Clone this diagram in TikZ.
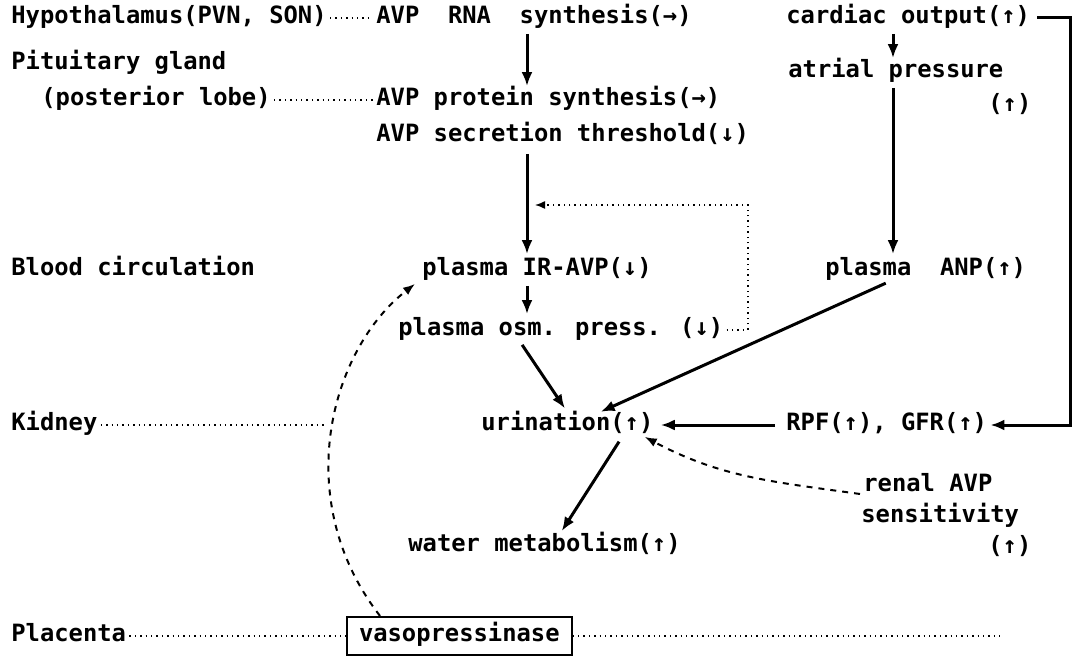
\documentclass[tikz,border=0pt]{standalone}
\usepackage{fontspec}
\setmainfont{DejaVu Sans Mono}
\usetikzlibrary{arrows.meta}

\begin{document}
\begin{tikzpicture}[x=0.5pt,y=-0.5pt,
		lbl/.style={anchor=west,inner ysep=0pt,inner xsep=1.5pt,text height=.75em,text depth=.2em,
			font=\fontsize{11.9}{13}\selectfont\bfseries},
		flow/.style={line width=1.5pt,-{Latex[length=7pt,width=5.5pt]}},
		link/.style={line width=0.7pt,dotted},
		flux/.style={line width=1pt,dashed,-{Latex[length=6pt,width=4.5pt]}}]
	\useasboundingbox (0,0) rectangle (1080,657);
	% columns and free ends
	\coordinate (colA) at (527,0);
	\coordinate (colB) at (893,0);
	\coordinate (rim) at (1070,0);
	\coordinate (kidend) at (327,0);
	\coordinate (plaend) at (1000,0);
	\coordinate (fbk) at (748,205);
	% organs
	\node[lbl] (hyp) at (8,18) {Hypothalamus(PVN, SON)};
	\node[lbl] (pit) at (8,64) {Pituitary gland};
	\node[lbl] (post) at (38,100) {(posterior lobe)};
	\node[lbl] (blood) at (8,270) {Blood circulation};
	\node[lbl] (kid) at (8,425) {Kidney};
	\node[lbl] (plac) at (8,636) {Placenta};
	% AVP side
	\node[lbl] (rna) at (373,18) {AVP~~RNA~~synthesis(→)};
	\node[lbl] (prot) at (373,100) {AVP protein synthesis(→)};
	\node[lbl] (secr) at (373,136) {AVP secretion threshold(↓)};
	\node[lbl] (irav) at (419,270) {plasma IR-AVP(↓)};
	\node[lbl] (osm) at (395,330) {plasma osm. press. (↓)};
	\node[lbl] (uri) at (478,425) {urination(↑)};
	\node[lbl] (water) at (405,546) {water metabolism(↑)};
	\node[lbl,draw,line width=1pt,inner xsep=6pt,inner ysep=4.8pt] (vaso) at (346,636) {vasopressinase};
	% ANP side
	\node[lbl] (card) at (783,18) {cardiac output(↑)};
	\node[lbl] (atr) at (785,72) {atrial pressure};
	\node[lbl] (atrup) at (985,106) {(↑)};
	\node[lbl] (anp) at (822,270) {plasma~~ANP(↑)};
	\node[lbl] (rpf) at (783,425) {RPF(↑), GFR(↑)};
	\node[lbl] (renal) at (860,486) {renal AVP};
	\node[lbl] (sens) at (858,517) {sensitivity};
	\node[lbl] (sensup) at (985,548) {(↑)};
	% dotted level lines
	\draw[link] (hyp) -- (rna);
	\draw[link] (post) -- (prot);
	\draw[link] (kid.east) -- (kid.east -| kidend);
	\draw[link] (plac) -- (vaso);
	\draw[link] (vaso.east) -- (vaso.east -| plaend);
	\draw[link,-{Latex[length=5pt,width=4pt]},shorten >=4pt] (osm.east) -- (osm.east -| fbk) -- (fbk) -- (fbk -| colA);
	% main arrows
	\draw[flow,shorten <=3pt,shorten >=2pt] (rna.south -| colA) -- (prot.north -| colA);
	\draw[flow,shorten <=4pt,shorten >=3pt] (secr.south -| colA) -- (irav.north -| colA);
	\draw[flow,shorten <=3pt,shorten >=3pt] (irav.south -| colA) -- (osm.north -| colA);
	\draw[flow,shorten <=3pt,shorten >=2pt] (card.south -| colB) -- (atr.north -| colB);
	\draw[flow,shorten <=3pt,shorten >=3pt] (atr.south -| colB) -- (anp.north -| colB);
	\draw[flow,shorten <=2pt] (card.east) -- (card.east -| rim) -- (rpf.east -| rim) -- (rpf.east);
	\draw[flow,shorten <=4pt,shorten >=2pt] (rpf.west) -- (uri.east);
	\draw[flow,shorten <=3pt,shorten >=4pt] ([xshift=-21pt]osm.south) -- ([xshift=1pt]uri.north);
	\draw[flow,shorten <=4pt,shorten >=4pt] (anp.south -| colB) -- ([xshift=13pt]uri.north);
	\draw[flow,shorten <=4pt,shorten >=3pt] ([xshift=28pt]uri.south) -- ([xshift=7pt]water.north);
	% dashed influences
	\draw[flux] ([yshift=-4pt]renal.west) to[out=172,in=-28] ([xshift=-6pt,yshift=-1pt]uri.south east);
	\draw[flux] ([xshift=17pt]vaso.north west) .. controls (290,500) and (330,350) .. ([xshift=-2pt,yshift=-2pt]irav.south west);
\end{tikzpicture}
\end{document}
